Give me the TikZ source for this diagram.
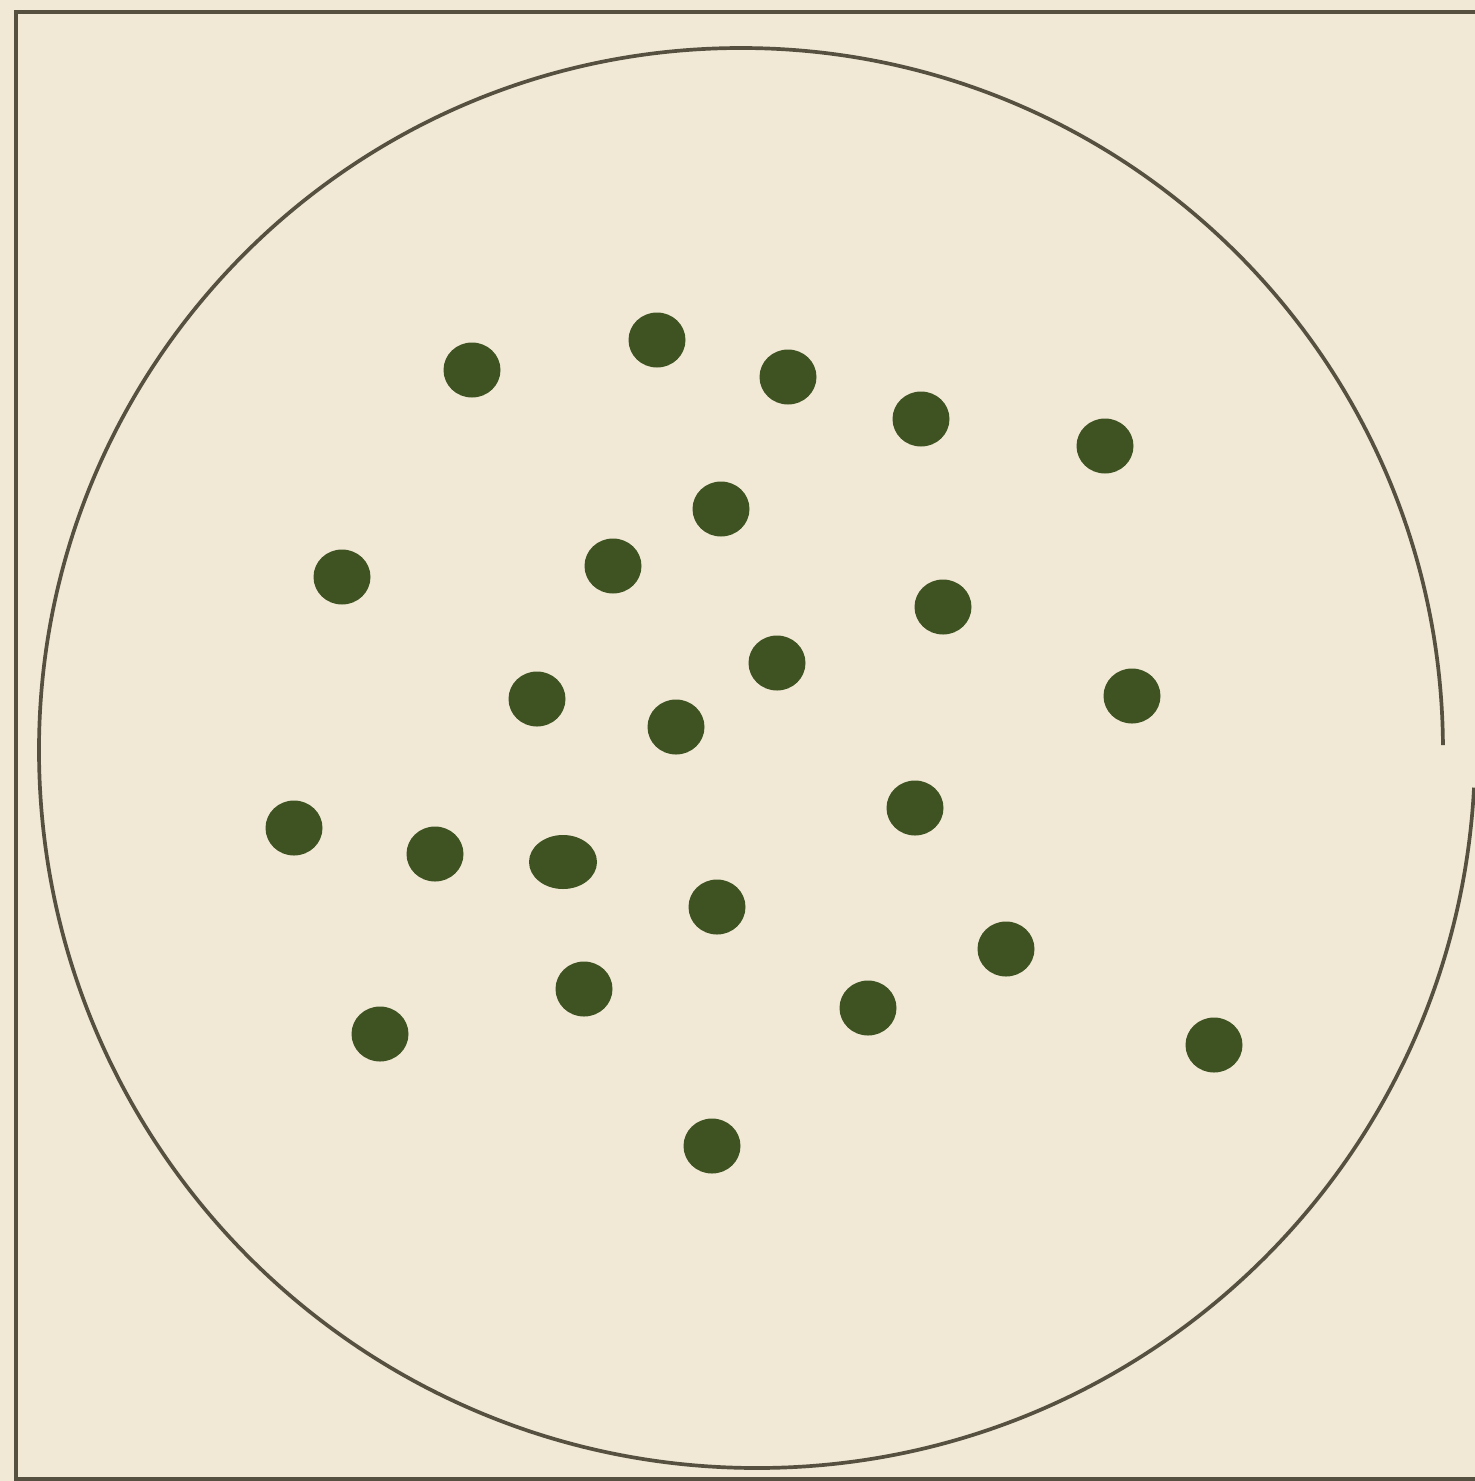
\documentclass[tikz,border=0pt]{standalone}
\usetikzlibrary{positioning}
\definecolor{paper}{HTML}{F1E9D6}
\definecolor{ink}{HTML}{55503F}
\definecolor{pea}{HTML}{3E5222}
\tikzset{
  rim/.style={draw=ink, line width=1.05pt},
  frame/.style={draw=ink, line width=1pt},
  blob/.style={fill=pea}
}
\begin{document}
\begin{tikzpicture}[x=0.01cm, y=-0.01cm]
  % Blatt, Rahmen
  \useasboundingbox (0,0) rectangle (1475,1481);
  \fill[paper] (0,0) rectangle (1475,1481);
  \clip (0,0) rectangle (1475,1481);
  \draw[frame] (16,12) rectangle (1500,1479);
  % Schale: zwei Bogen, rechts nicht geschlossen
  \draw[rim] (39,750) arc[start angle=180, end angle=359.6, radius=702];
  \draw[rim] (39,750) arc[start angle=180, end angle=3, radius=718];
  % Körner
  \foreach \px/\py in {472/370, 657/340, 788/377, 921/419, 1105/446,
      721/509, 613/566, 342/577, 943/607, 777/663, 1132/696,
      537/699, 676/727, 294/828, 435/854, 915/808, 717/907,
      1006/949, 584/989, 868/1008, 380/1034, 1214/1045, 712/1146}
    \fill[blob] (\px,\py) ellipse[x radius=28.5, y radius=27.5];
  \fill[blob] (563,862) ellipse[x radius=34, y radius=27];
\end{tikzpicture}
\end{document}
